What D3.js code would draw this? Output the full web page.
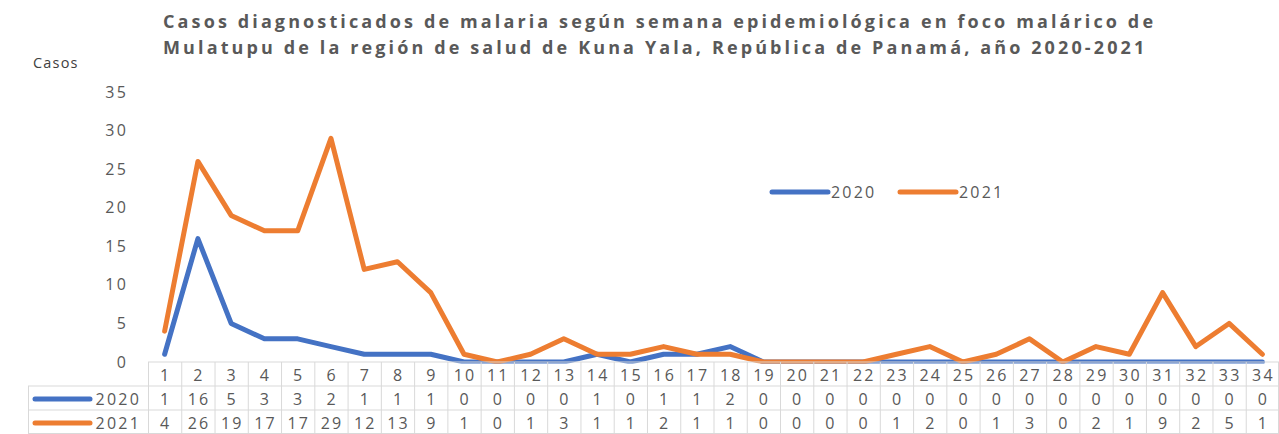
<!DOCTYPE html>
<html><head><meta charset="utf-8">
<script src="https://cdn.jsdelivr.net/npm/d3@7"></script>
<style>body{margin:0;background:#fff}svg{display:block}</style>
</head><body>
<svg id="c" width="1279" height="434"></svg>
<script>
const weeks = d3.range(1, 35).map(String);
const series2020 = [1,16,5,3,3,2,1,1,1,0,0,0,0,1,0,1,1,2,0,0,0,0,0,0,0,0,0,0,0,0,0,0,0,0];
const series2021 = [4,26,19,17,17,29,12,13,9,1,0,1,3,1,1,2,1,1,0,0,0,0,1,2,0,1,3,0,2,1,9,2,5,1];
const seriesNames = ["2020","2021"];
const yTicks = [0,5,10,15,20,25,30,35];
const titleLines = ["Casos diagnosticados de malaria según semana epidemiológica en foco malárico de",
  "Mulatupu de la región de salud de Kuna Yala, República de Panamá, año 2020-2021"];
const colors = ["#4472C4","#ED7D31"];

const svg = d3.select("#c");
const font = "'Open Sans', sans-serif";
const gray = "#595959";
const grid = "#d9d9d9";
const numLS = 2.2;

const x = d3.scaleBand().domain(weeks).range([148, 1279]).padding(0);
const y = d3.scaleLinear().domain([0, 35]).range([362, 92]);

// title
const t = svg.append("g").attr("font-family", font).attr("font-weight", "bold").attr("fill", gray)
  .attr("font-size", 18);
const tEls = titleLines.map((s, i) => t.append("text").attr("x", 163).attr("y", 28 + i * 26).text(s));
const w0 = tEls[0].node().getComputedTextLength();
const ls = (990 - w0) / (titleLines[0].length - 1);
t.attr("letter-spacing", ls.toFixed(3));

svg.append("text").attr("x", 33).attr("y", 68).attr("font-family", font).attr("font-size", 14.5)
  .attr("letter-spacing", 1.2).attr("fill", "#404040").text("Casos");

// y axis labels
const ya = svg.append("g").attr("transform", "translate(128,0)")
  .call(d3.axisLeft(y).tickValues(yTicks).tickSize(0).tickPadding(0));
ya.select(".domain").remove();
ya.selectAll("text").attr("font-family", font).attr("font-size", 16).attr("letter-spacing", numLS)
  .attr("fill", gray);

// lines
svg.append("clipPath").attr("id", "clip").append("rect").attr("x", 0).attr("y", 0).attr("width", 1279).attr("height", 363.5);
const line = d3.line().x((d, i) => x(weeks[i]) + x.bandwidth() / 2).y(d => y(d));
const lg = svg.append("g").attr("clip-path", "url(#clip)");
[series2020, series2021].forEach((s, k) => {
  lg.append("path").datum(s).attr("d", line).attr("fill", "none").attr("stroke", colors[k])
    .attr("stroke-width", 5).attr("stroke-linejoin", "round").attr("stroke-linecap", "round");
});

// legend
const legX = [772, 900];
seriesNames.forEach((n, k) => {
  svg.append("line").attr("x1", legX[k]).attr("x2", legX[k] + 56).attr("y1", 192).attr("y2", 192)
    .attr("stroke", colors[k]).attr("stroke-width", 5).attr("stroke-linecap", "round");
  svg.append("text").attr("x", legX[k] + 59).attr("y", 198).attr("font-family", font).attr("font-size", 16)
    .attr("letter-spacing", numLS).attr("fill", gray).text(n);
});

// data table
const tb = svg.append("g");
const rowTop = [362, 386, 410];
tb.append("line").attr("x1", 148).attr("x2", 1279).attr("y1", 362).attr("y2", 362).attr("stroke", grid);
[386, 410, 433.5].forEach(yy => tb.append("line").attr("x1", 28).attr("x2", 1279).attr("y1", yy).attr("y2", yy).attr("stroke", grid));
weeks.forEach(wk => {
  tb.append("line").attr("x1", x(wk) + 0.5).attr("x2", x(wk) + 0.5).attr("y1", 362).attr("y2", 434).attr("stroke", grid);
});
tb.append("line").attr("x1", 1278.5).attr("x2", 1278.5).attr("y1", 362).attr("y2", 434).attr("stroke", grid);
tb.append("line").attr("x1", 28.5).attr("x2", 28.5).attr("y1", 386).attr("y2", 434).attr("stroke", grid);

const cellText = (xx, yy, s, anchor) => tb.append("text").attr("x", xx).attr("y", yy)
  .attr("text-anchor", anchor || "middle").attr("font-family", font).attr("font-size", 16)
  .attr("letter-spacing", numLS).attr("fill", gray).text(s);

weeks.forEach(wk => cellText(x(wk) + x.bandwidth() / 2 + numLS / 2, rowTop[0] + 19, wk));
[series2020, series2021].forEach((s, k) => {
  s.forEach((v, i) => cellText(x(weeks[i]) + x.bandwidth() / 2 + numLS / 2, rowTop[k + 1] + 19, v));
  tb.append("line").attr("x1", 35).attr("x2", 90).attr("y1", rowTop[k + 1] + 13).attr("y2", rowTop[k + 1] + 13)
    .attr("stroke", colors[k]).attr("stroke-width", 5).attr("stroke-linecap", "round");
  cellText(141, rowTop[k + 1] + 19, seriesNames[k], "end");
});
</script>
</body></html>
